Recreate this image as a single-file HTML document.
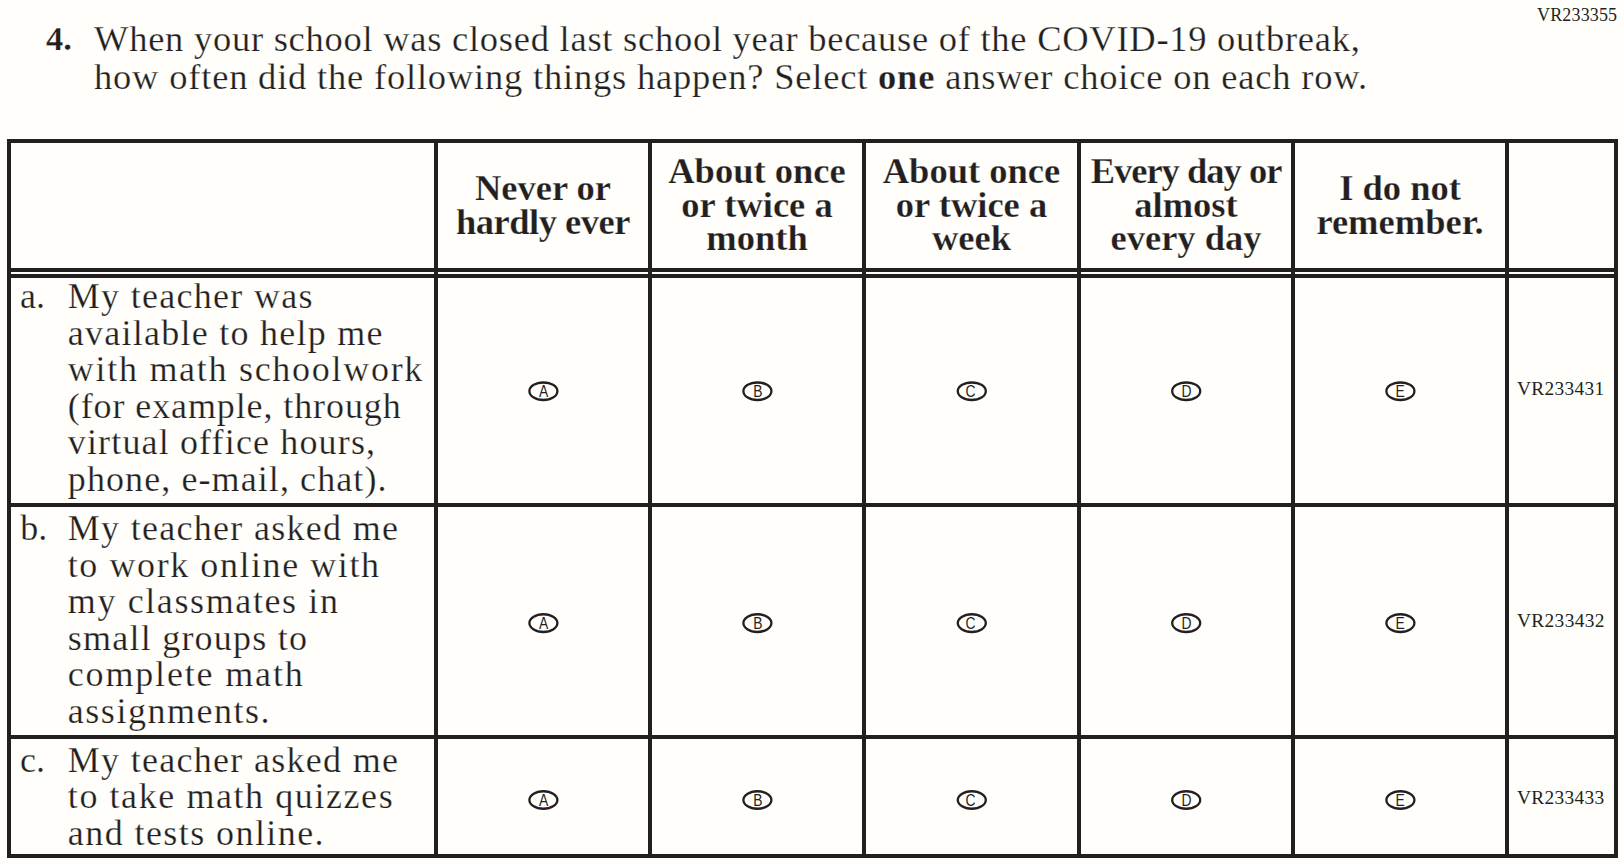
<!DOCTYPE html>
<html><head><meta charset="utf-8">
<style>
html,body{margin:0;padding:0;}
body{width:1624px;height:865px;overflow:hidden;background:#FFFEFA;position:relative;color:#231F20;font-family:"Liberation Serif",serif;}
.l{position:absolute;background:#231F20;}
.t{position:absolute;white-space:pre;line-height:1;}
.s{-webkit-text-stroke:0.25px #FFFEFA;}
svg{position:absolute;left:0;top:0;}
</style></head><body>
<div class="l" style="left:7px;top:139px;width:1611px;height:4px;"></div>
<div class="l" style="left:7px;top:268px;width:1611px;height:4px;"></div>
<div class="l" style="left:7px;top:274px;width:1611px;height:4px;"></div>
<div class="l" style="left:7px;top:503px;width:1611px;height:4px;"></div>
<div class="l" style="left:7px;top:735px;width:1611px;height:4px;"></div>
<div class="l" style="left:7px;top:854px;width:1611px;height:4px;"></div>
<div class="l" style="left:7px;top:139px;width:4px;height:719px;"></div>
<div class="l" style="left:434px;top:139px;width:4px;height:719px;"></div>
<div class="l" style="left:648px;top:139px;width:4px;height:719px;"></div>
<div class="l" style="left:862px;top:139px;width:4px;height:719px;"></div>
<div class="l" style="left:1077px;top:139px;width:4px;height:719px;"></div>
<div class="l" style="left:1291px;top:139px;width:4px;height:719px;"></div>
<div class="l" style="left:1505px;top:139px;width:4px;height:719px;"></div>
<div class="l" style="left:1614px;top:139px;width:4px;height:719px;"></div>
<div class="t" style="top:5.53px;font-size:18px;letter-spacing:0.160px;left:1537.00px;">VR233355</div>
<div class="t s" style="top:21.41px;font-size:34.5px;font-weight:bold;left:46.00px;">4.</div>
<div class="t s" style="top:20.63px;font-size:36.5px;letter-spacing:0.735px;left:94.00px;">When your school was closed last school year because of the COVID-19 outbreak,</div>
<div class="t s" style="top:58.73px;font-size:36.5px;letter-spacing:0.800px;left:94.00px;">how often did the following things happen? Select <b>one</b> answer choice on each row.</div>
<div class="t s" style="top:169.83px;font-size:36.5px;font-weight:bold;left:243.00px;width:600px;text-align:center;">Never or</div>
<div class="t s" style="top:203.63px;font-size:36.5px;letter-spacing:-0.500px;font-weight:bold;left:243.00px;width:600px;text-align:center;">hardly ever</div>
<div class="t s" style="top:152.63px;font-size:36.5px;font-weight:bold;left:457.00px;width:600px;text-align:center;">About once</div>
<div class="t s" style="top:186.53px;font-size:36.5px;font-weight:bold;left:457.00px;width:600px;text-align:center;">or twice a</div>
<div class="t s" style="top:219.53px;font-size:36.5px;font-weight:bold;left:457.00px;width:600px;text-align:center;">month</div>
<div class="t s" style="top:152.63px;font-size:36.5px;font-weight:bold;left:671.50px;width:600px;text-align:center;">About once</div>
<div class="t s" style="top:186.53px;font-size:36.5px;font-weight:bold;left:671.50px;width:600px;text-align:center;">or twice a</div>
<div class="t s" style="top:219.53px;font-size:36.5px;font-weight:bold;left:671.50px;width:600px;text-align:center;">week</div>
<div class="t s" style="top:152.63px;font-size:36.5px;letter-spacing:-1.000px;font-weight:bold;left:886.00px;width:600px;text-align:center;">Every day or</div>
<div class="t s" style="top:186.53px;font-size:36.5px;font-weight:bold;left:886.00px;width:600px;text-align:center;">almost</div>
<div class="t s" style="top:219.53px;font-size:36.5px;font-weight:bold;left:886.00px;width:600px;text-align:center;">every day</div>
<div class="t s" style="top:169.83px;font-size:36.5px;font-weight:bold;left:1100.00px;width:600px;text-align:center;">I do not</div>
<div class="t s" style="top:203.63px;font-size:36.5px;font-weight:bold;left:1100.00px;width:600px;text-align:center;">remember.</div>
<div class="t s" style="top:277.95px;font-size:36.0px;left:20.00px;">a.</div>
<div class="t s" style="top:277.95px;font-size:36.0px;letter-spacing:1.293px;left:67.80px;">My teacher was</div>
<div class="t s" style="top:314.55px;font-size:36.0px;letter-spacing:1.253px;left:67.80px;">available to help me</div>
<div class="t s" style="top:351.15px;font-size:36.0px;letter-spacing:1.716px;left:67.80px;">with math schoolwork</div>
<div class="t s" style="top:387.75px;font-size:36.0px;letter-spacing:0.900px;left:67.80px;">(for example, through</div>
<div class="t s" style="top:424.35px;font-size:36.0px;letter-spacing:1.150px;left:67.80px;">virtual office hours,</div>
<div class="t s" style="top:460.95px;font-size:36.0px;letter-spacing:1.090px;left:67.80px;">phone, e-mail, chat).</div>
<div class="t s" style="top:509.95px;font-size:36.0px;left:20.30px;">b.</div>
<div class="t s" style="top:509.95px;font-size:36.0px;letter-spacing:1.294px;left:67.80px;">My teacher asked me</div>
<div class="t s" style="top:546.55px;font-size:36.0px;letter-spacing:1.567px;left:67.80px;">to work online with</div>
<div class="t s" style="top:583.15px;font-size:36.0px;letter-spacing:1.613px;left:67.80px;">my classmates in</div>
<div class="t s" style="top:619.75px;font-size:36.0px;letter-spacing:1.228px;left:67.80px;">small groups to</div>
<div class="t s" style="top:656.35px;font-size:36.0px;letter-spacing:1.833px;left:67.80px;">complete math</div>
<div class="t s" style="top:692.95px;font-size:36.0px;letter-spacing:1.527px;left:67.80px;">assignments.</div>
<div class="t s" style="top:741.95px;font-size:36.0px;left:20.00px;">c.</div>
<div class="t s" style="top:741.95px;font-size:36.0px;letter-spacing:1.294px;left:67.80px;">My teacher asked me</div>
<div class="t s" style="top:778.25px;font-size:36.0px;letter-spacing:1.579px;left:67.80px;">to take math quizzes</div>
<div class="t s" style="top:814.55px;font-size:36.0px;letter-spacing:1.425px;left:67.80px;">and tests online.</div>
<div class="t" style="top:378.75px;font-size:19.4px;letter-spacing:0.300px;left:1517.00px;">VR233431</div>
<div class="t" style="top:610.85px;font-size:19.4px;letter-spacing:0.330px;left:1517.00px;">VR233432</div>
<div class="t" style="top:787.75px;font-size:19.4px;letter-spacing:0.300px;left:1517.00px;">VR233433</div>
<svg width="1624" height="865" viewBox="0 0 1624 865">
<path fill="#231F20" fill-rule="evenodd" d="M528.25,391.20a15.15,10.05 0 1,0 30.30,0a15.15,10.05 0 1,0 -30.30,0ZM530.55,391.20a12.85,7.55 0 1,0 25.70,0a12.85,7.55 0 1,0 -25.70,0Z"/>
<text transform="translate(543.50,397.09999999999997) scale(0.82,1)" text-anchor="middle" font-family="Liberation Sans" font-size="16.9" fill="#231F20">A</text>
<path fill="#231F20" fill-rule="evenodd" d="M742.25,391.20a15.15,10.05 0 1,0 30.30,0a15.15,10.05 0 1,0 -30.30,0ZM744.55,391.20a12.85,7.55 0 1,0 25.70,0a12.85,7.55 0 1,0 -25.70,0Z"/>
<text transform="translate(757.80,397.09999999999997) scale(0.82,1)" text-anchor="middle" font-family="Liberation Sans" font-size="16.9" fill="#231F20">B</text>
<path fill="#231F20" fill-rule="evenodd" d="M956.65,391.20a15.15,10.05 0 1,0 30.30,0a15.15,10.05 0 1,0 -30.30,0ZM958.95,391.20a12.85,7.55 0 1,0 25.70,0a12.85,7.55 0 1,0 -25.70,0Z"/>
<text transform="translate(970.40,397.09999999999997) scale(0.82,1)" text-anchor="middle" font-family="Liberation Sans" font-size="16.9" fill="#231F20">C</text>
<path fill="#231F20" fill-rule="evenodd" d="M1171.05,391.20a15.15,10.05 0 1,0 30.30,0a15.15,10.05 0 1,0 -30.30,0ZM1173.35,391.20a12.85,7.55 0 1,0 25.70,0a12.85,7.55 0 1,0 -25.70,0Z"/>
<text transform="translate(1186.40,397.09999999999997) scale(0.82,1)" text-anchor="middle" font-family="Liberation Sans" font-size="16.9" fill="#231F20">D</text>
<path fill="#231F20" fill-rule="evenodd" d="M1385.25,391.20a15.15,10.05 0 1,0 30.30,0a15.15,10.05 0 1,0 -30.30,0ZM1387.55,391.20a12.85,7.55 0 1,0 25.70,0a12.85,7.55 0 1,0 -25.70,0Z"/>
<text transform="translate(1400.20,397.09999999999997) scale(0.82,1)" text-anchor="middle" font-family="Liberation Sans" font-size="16.9" fill="#231F20">E</text>
<path fill="#231F20" fill-rule="evenodd" d="M528.25,623.10a15.15,10.05 0 1,0 30.30,0a15.15,10.05 0 1,0 -30.30,0ZM530.55,623.10a12.85,7.55 0 1,0 25.70,0a12.85,7.55 0 1,0 -25.70,0Z"/>
<text transform="translate(543.50,629.0) scale(0.82,1)" text-anchor="middle" font-family="Liberation Sans" font-size="16.9" fill="#231F20">A</text>
<path fill="#231F20" fill-rule="evenodd" d="M742.25,623.10a15.15,10.05 0 1,0 30.30,0a15.15,10.05 0 1,0 -30.30,0ZM744.55,623.10a12.85,7.55 0 1,0 25.70,0a12.85,7.55 0 1,0 -25.70,0Z"/>
<text transform="translate(757.80,629.0) scale(0.82,1)" text-anchor="middle" font-family="Liberation Sans" font-size="16.9" fill="#231F20">B</text>
<path fill="#231F20" fill-rule="evenodd" d="M956.65,623.10a15.15,10.05 0 1,0 30.30,0a15.15,10.05 0 1,0 -30.30,0ZM958.95,623.10a12.85,7.55 0 1,0 25.70,0a12.85,7.55 0 1,0 -25.70,0Z"/>
<text transform="translate(970.40,629.0) scale(0.82,1)" text-anchor="middle" font-family="Liberation Sans" font-size="16.9" fill="#231F20">C</text>
<path fill="#231F20" fill-rule="evenodd" d="M1171.05,623.10a15.15,10.05 0 1,0 30.30,0a15.15,10.05 0 1,0 -30.30,0ZM1173.35,623.10a12.85,7.55 0 1,0 25.70,0a12.85,7.55 0 1,0 -25.70,0Z"/>
<text transform="translate(1186.40,629.0) scale(0.82,1)" text-anchor="middle" font-family="Liberation Sans" font-size="16.9" fill="#231F20">D</text>
<path fill="#231F20" fill-rule="evenodd" d="M1385.25,623.10a15.15,10.05 0 1,0 30.30,0a15.15,10.05 0 1,0 -30.30,0ZM1387.55,623.10a12.85,7.55 0 1,0 25.70,0a12.85,7.55 0 1,0 -25.70,0Z"/>
<text transform="translate(1400.20,629.0) scale(0.82,1)" text-anchor="middle" font-family="Liberation Sans" font-size="16.9" fill="#231F20">E</text>
<path fill="#231F20" fill-rule="evenodd" d="M528.25,800.00a15.15,10.05 0 1,0 30.30,0a15.15,10.05 0 1,0 -30.30,0ZM530.55,800.00a12.85,7.55 0 1,0 25.70,0a12.85,7.55 0 1,0 -25.70,0Z"/>
<text transform="translate(543.50,805.9) scale(0.82,1)" text-anchor="middle" font-family="Liberation Sans" font-size="16.9" fill="#231F20">A</text>
<path fill="#231F20" fill-rule="evenodd" d="M742.25,800.00a15.15,10.05 0 1,0 30.30,0a15.15,10.05 0 1,0 -30.30,0ZM744.55,800.00a12.85,7.55 0 1,0 25.70,0a12.85,7.55 0 1,0 -25.70,0Z"/>
<text transform="translate(757.80,805.9) scale(0.82,1)" text-anchor="middle" font-family="Liberation Sans" font-size="16.9" fill="#231F20">B</text>
<path fill="#231F20" fill-rule="evenodd" d="M956.65,800.00a15.15,10.05 0 1,0 30.30,0a15.15,10.05 0 1,0 -30.30,0ZM958.95,800.00a12.85,7.55 0 1,0 25.70,0a12.85,7.55 0 1,0 -25.70,0Z"/>
<text transform="translate(970.40,805.9) scale(0.82,1)" text-anchor="middle" font-family="Liberation Sans" font-size="16.9" fill="#231F20">C</text>
<path fill="#231F20" fill-rule="evenodd" d="M1171.05,800.00a15.15,10.05 0 1,0 30.30,0a15.15,10.05 0 1,0 -30.30,0ZM1173.35,800.00a12.85,7.55 0 1,0 25.70,0a12.85,7.55 0 1,0 -25.70,0Z"/>
<text transform="translate(1186.40,805.9) scale(0.82,1)" text-anchor="middle" font-family="Liberation Sans" font-size="16.9" fill="#231F20">D</text>
<path fill="#231F20" fill-rule="evenodd" d="M1385.25,800.00a15.15,10.05 0 1,0 30.30,0a15.15,10.05 0 1,0 -30.30,0ZM1387.55,800.00a12.85,7.55 0 1,0 25.70,0a12.85,7.55 0 1,0 -25.70,0Z"/>
<text transform="translate(1400.20,805.9) scale(0.82,1)" text-anchor="middle" font-family="Liberation Sans" font-size="16.9" fill="#231F20">E</text>
</svg>
</body></html>
